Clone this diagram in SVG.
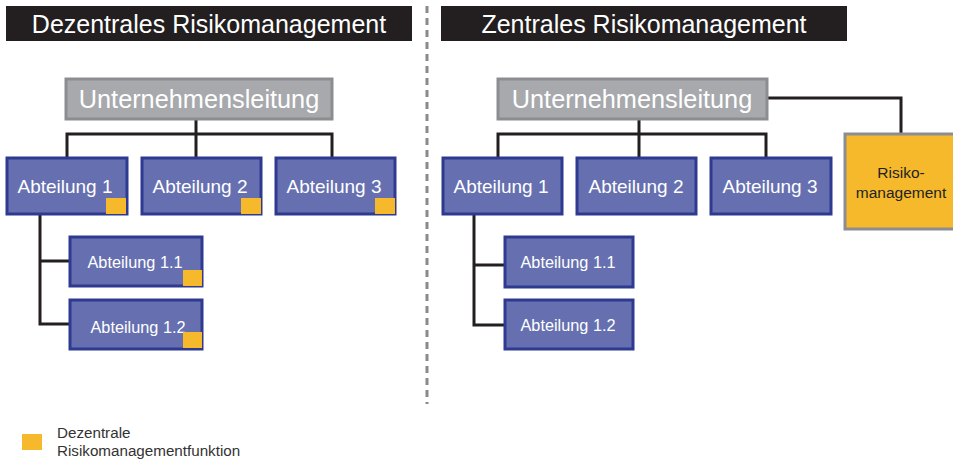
<svg xmlns="http://www.w3.org/2000/svg" width="953" height="461" viewBox="0 0 953 461">
<style>
text{font-family:"Liberation Sans",Arial,sans-serif}
.title{fill:#231f20}
.tt{fill:#fff;font-size:25px;text-anchor:middle}
.ul{fill:#a7a9ac;stroke:#8c8d90;stroke-width:3}
.ult{fill:#fff;font-size:25.3px;text-anchor:middle}
.ab{fill:#6670b0;stroke:#2e3990;stroke-width:3}
.abt{fill:#fff;font-size:19px;text-anchor:middle}
.abs{fill:#fff;font-size:16.3px;text-anchor:middle}
.or{fill:#f6b92b}
.con{fill:none;stroke:#231f20;stroke-width:3}
</style>
<g id="divider"><line x1="427" y1="6" x2="427" y2="404" stroke="#8a8a8a" stroke-width="3" stroke-dasharray="7,5"/></g>
<g id="connectors">
<path class="con" d="M196 119V157M67 157V134H332V157"/>
<path class="con" d="M40 214V324H70M40 261H70"/>
<path class="con" d="M639 119V157M498 157V134H766V157"/>
<path class="con" d="M768 98H901V133"/>
<path class="con" d="M474 214V325H505M474 265H505"/>
</g>
<g id="title-left"><rect class="title" x="6" y="6" width="406" height="35"/><text class="tt" x="209" y="33">Dezentrales Risikomanagement</text></g>
<g id="title-right"><rect class="title" x="441" y="6" width="406" height="35"/><text class="tt" x="644" y="33">Zentrales Risikomanagement</text></g>
<g id="ul-left"><rect class="ul" x="66" y="79" width="266" height="40"/><text class="ult" x="199" y="108">Unternehmensleitung</text></g>
<g id="ul-right"><rect class="ul" x="498" y="79" width="269" height="40"/><text class="ult" x="632" y="108">Unternehmensleitung</text></g>
<g id="abt1-left"><rect class="ab" x="7" y="158" width="120" height="56"/><text class="abt" x="65" y="193">Abteilung 1</text><rect class="or" x="106" y="198" width="20" height="16"/></g>
<g id="abt2-left"><rect class="ab" x="142" y="158" width="119" height="56"/><text class="abt" x="200" y="193">Abteilung 2</text><rect class="or" x="241" y="198" width="20" height="16"/></g>
<g id="abt3-left"><rect class="ab" x="276" y="158" width="119" height="56"/><text class="abt" x="334" y="193">Abteilung 3</text><rect class="or" x="375" y="198" width="20" height="16"/></g>
<g id="abt11-left"><rect class="ab" x="70" y="237" width="132" height="49"/><text class="abs" x="135" y="268">Abteilung 1.1</text><rect class="or" x="183" y="270" width="19" height="16"/></g>
<g id="abt12-left"><rect class="ab" x="70" y="300" width="132" height="49"/><text class="abs" x="138" y="333">Abteilung 1.2</text><rect class="or" x="183" y="332" width="19" height="16"/></g>
<g id="abt1-right"><rect class="ab" x="443" y="158" width="119" height="56"/><text class="abt" x="501" y="193">Abteilung 1</text></g>
<g id="abt2-right"><rect class="ab" x="577" y="158" width="119" height="56"/><text class="abt" x="636" y="193">Abteilung 2</text></g>
<g id="abt3-right"><rect class="ab" x="711" y="158" width="120" height="56"/><text class="abt" x="770" y="193">Abteilung 3</text></g>
<g id="abt11-right"><rect class="ab" x="505" y="237" width="128" height="50"/><text class="abs" x="568" y="268">Abteilung 1.1</text></g>
<g id="abt12-right"><rect class="ab" x="505" y="300" width="128" height="49"/><text class="abs" x="568" y="331">Abteilung 1.2</text></g>
<g id="risiko"><rect x="845" y="134" width="112" height="95" fill="#f6b92b" stroke="#8c8d90" stroke-width="3"/><text x="901" y="178" font-size="15.5" fill="#231f20" text-anchor="middle">Risiko-</text><text x="901" y="198" font-size="15.5" fill="#231f20" text-anchor="middle">management</text></g>
<g id="legend"><rect class="or" x="22" y="434" width="20" height="16"/><text x="57" y="438" font-size="15.2" fill="#333">Dezentrale</text><text x="57" y="456" font-size="15.2" fill="#333">Risikomanagementfunktion</text></g>
</svg>
